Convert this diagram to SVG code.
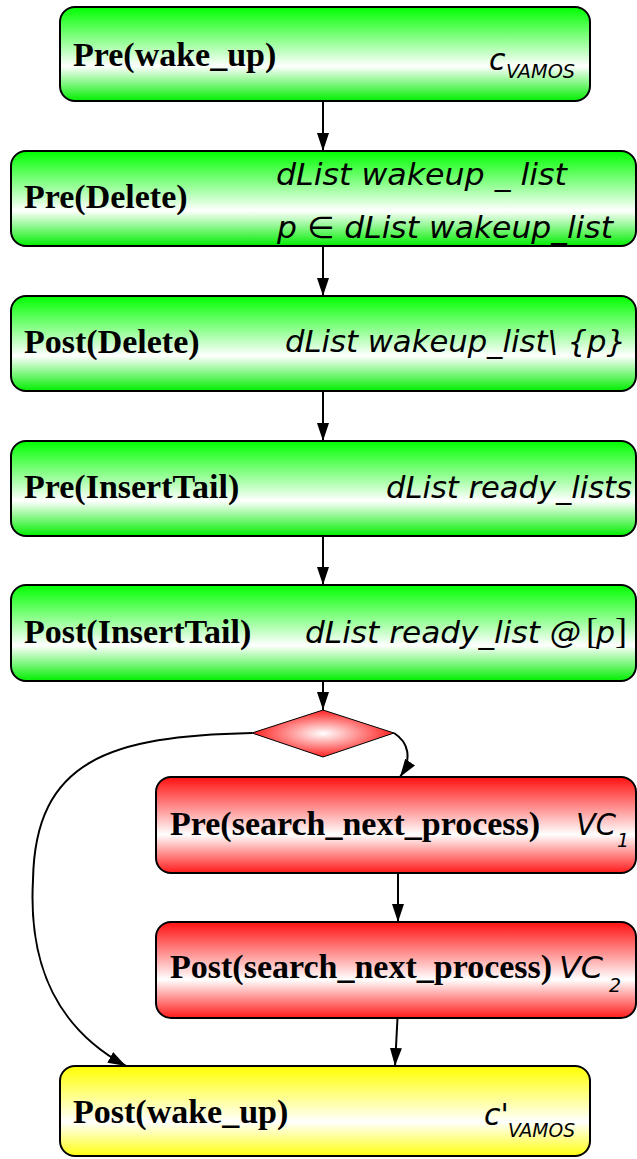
<svg xmlns="http://www.w3.org/2000/svg" width="637" height="1159" viewBox="0 0 637 1159">
<defs>
<linearGradient id="gGreen" x1="0" y1="0" x2="0" y2="1">
<stop offset="0" stop-color="#00ff00"/>
<stop offset="0.63" stop-color="#ffffff"/>
<stop offset="1" stop-color="#00ee00"/>
</linearGradient>
<linearGradient id="gRed" x1="0" y1="0" x2="0" y2="1">
<stop offset="0" stop-color="#ff1010"/>
<stop offset="0.6" stop-color="#ffffff"/>
<stop offset="1" stop-color="#ff1a1a"/>
</linearGradient>
<linearGradient id="gYellow" x1="0" y1="0" x2="0" y2="1">
<stop offset="0" stop-color="#ffff00"/>
<stop offset="0.62" stop-color="#ffffff"/>
<stop offset="1" stop-color="#ffff10"/>
</linearGradient>
<radialGradient id="gDiamond" cx="0.5" cy="0.5" r="0.5">
<stop offset="0" stop-color="#ffffff"/>
<stop offset="1" stop-color="#ff2020"/>
</radialGradient>
<marker id="arr" viewBox="0 0 18 12" refX="18" refY="6" markerWidth="18" markerHeight="12" markerUnits="userSpaceOnUse" orient="auto">
<path d="M0,0 L18,6 L0,12 Z" fill="#000"/>
</marker>
</defs>
<style>
.box{stroke:#000;stroke-width:2}
.g{fill:url(#gGreen)}
.r{fill:url(#gRed)}
.y{fill:url(#gYellow)}
.lbl{font-family:"Liberation Serif",serif;font-weight:bold;font-size:34px;fill:#000}
.it{font-family:"DejaVu Sans",sans-serif;font-style:italic;font-size:30px;fill:#000}
.sub{font-family:"DejaVu Sans",sans-serif;font-style:italic;font-size:19px;fill:#000}
.up{font-family:"Liberation Serif",serif;font-style:normal;font-size:36px}
.edge{fill:none;stroke:#000;stroke-width:2;marker-end:url(#arr)}
</style>
<rect width="637" height="1159" fill="#fff"/>
<g id="connectors">
<path class="edge" d="M323,101 L323,151"/>
<path class="edge" d="M323,246 L323,296"/>
<path class="edge" d="M323,391 L323,441"/>
<path class="edge" d="M323,536 L323,585"/>
<path class="edge" d="M323,681 L323,710"/>
<path class="edge" d="M394,733 C408,742 413,758 400,777"/>
<path class="edge" d="M252,733 C110,736 35,760 33,880 C28,970 60,1030 126,1066"/>
<path class="edge" d="M398,873 L398,922"/>
<path class="edge" d="M397.5,1018 L395,1066"/>
</g>
<g id="n1">
<rect class="box g" x="60" y="7" width="530" height="94" rx="15"/>
<text class="lbl" x="73" y="66">Pre(wake_up)</text>
<text class="it" x="489" y="70">c</text>
<text class="sub" x="506" y="78" textLength="69" lengthAdjust="spacingAndGlyphs">VAMOS</text>
</g>
<g id="n2">
<rect class="box g" x="11" y="151" width="625" height="95" rx="15"/>
<text class="lbl" x="24" y="208">Pre(Delete)</text>
<text class="it" x="276" y="185" textLength="291" lengthAdjust="spacingAndGlyphs">dList wakeup _ list</text>
<text class="it" x="277" y="238" textLength="336" lengthAdjust="spacingAndGlyphs">p ∈ dList wakeup_list</text>
</g>
<g id="n3">
<rect class="box g" x="11" y="296" width="625" height="95" rx="15"/>
<text class="lbl" x="24" y="353">Post(Delete)</text>
<text class="it" x="285" y="352" textLength="341" lengthAdjust="spacingAndGlyphs">dList wakeup_list\ {p}</text>
</g>
<g id="n4">
<rect class="box g" x="11" y="441" width="625" height="95" rx="15"/>
<text class="lbl" x="24" y="498">Pre(InsertTail)</text>
<text class="it" x="386" y="498" textLength="246" lengthAdjust="spacingAndGlyphs">dList ready_lists</text>
</g>
<g id="n5">
<rect class="box g" x="11" y="585" width="625" height="96" rx="15"/>
<text class="lbl" x="24" y="643">Post(InsertTail)</text>
<text class="it" y="643"><tspan x="305" textLength="276" lengthAdjust="spacingAndGlyphs">dList ready_list @</tspan><tspan class="up" x="586">[</tspan><tspan x="596">p</tspan><tspan class="up" x="615">]</tspan></text>
</g>
<g id="decision">
<path d="M323,710 L394,733 L323,757 L252,733 Z" fill="url(#gDiamond)" stroke="#000" stroke-width="1"/>
</g>
<g id="n6">
<rect class="box r" x="156" y="777" width="480" height="96" rx="15"/>
<text class="lbl" x="170" y="835">Pre(search_next_process)</text>
<text class="it" x="576" y="835" textLength="40" lengthAdjust="spacingAndGlyphs">VC</text>
<text class="sub" x="617" y="847">1</text>
</g>
<g id="n7">
<rect class="box r" x="156" y="922" width="480" height="96" rx="15"/>
<text class="lbl" x="170" y="978">Post(search_next_process)</text>
<text class="it" x="559" y="978" textLength="44" lengthAdjust="spacingAndGlyphs">VC</text>
<text class="sub" x="609" y="992">2</text>
</g>
<g id="n8">
<rect class="box y" x="60" y="1066" width="530" height="90" rx="15"/>
<text class="lbl" x="73" y="1123">Post(wake_up)</text>
<text class="it" x="484" y="1125">c'</text>
<text class="sub" x="508" y="1137" textLength="67" lengthAdjust="spacingAndGlyphs">VAMOS</text>
</g>
</svg>
